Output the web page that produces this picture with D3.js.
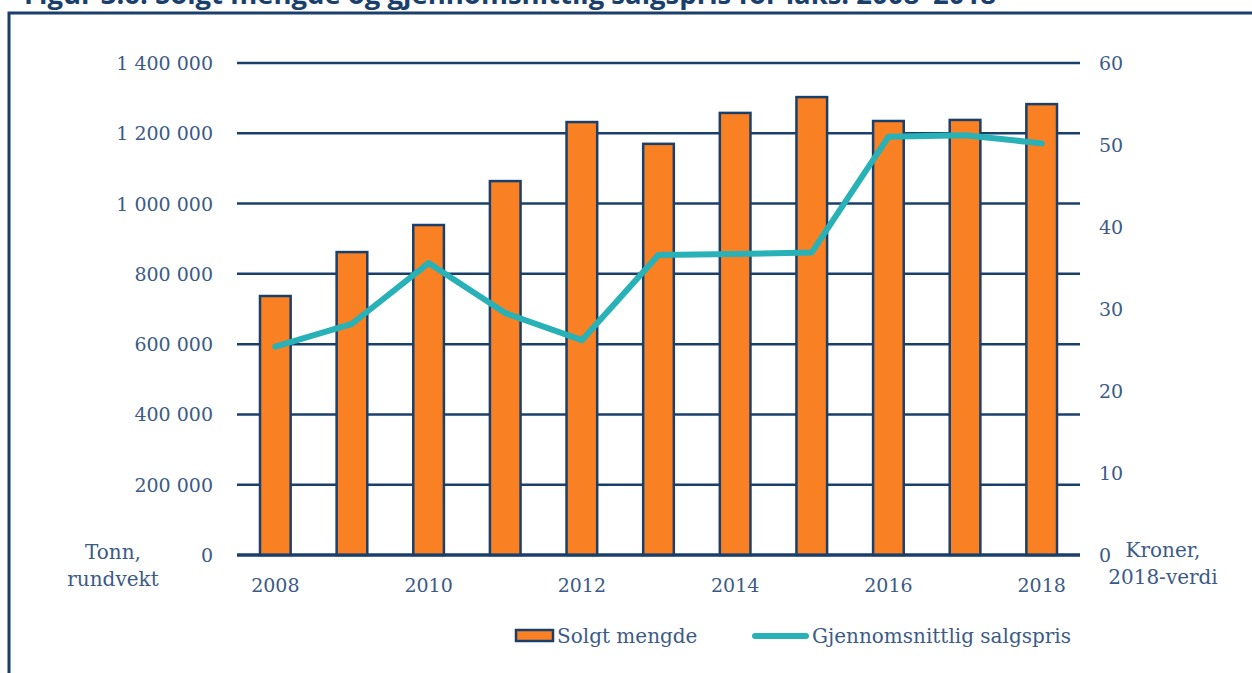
<!DOCTYPE html>
<html>
<head>
<meta charset="utf-8">
<script src="https://cdn.jsdelivr.net/npm/d3@7"></script>
<style>
  body { margin: 0; background: #fff; }
  svg { display: block; }
</style>
</head>
<body>
<svg width="1252" height="673"></svg>
<script>
// data
const years = [2008, 2009, 2010, 2011, 2012, 2013, 2014, 2015, 2016, 2017, 2018]
const solgtMengde = [737000, 862000, 939000, 1064000, 1232000, 1170000, 1258000, 1303000, 1235000, 1238000, 1283000]
const salgspris = [25.4, 28.2, 35.6, 29.5, 26.2, 36.6, 36.7, 36.9, 51.0, 51.2, 50.2]
const leftTicks = [0, 200000, 400000, 600000, 800000, 1000000, 1200000, 1400000]
const rightTicks = [0, 10, 20, 30, 40, 50, 60]
const yearLabels = [2008, 2010, 2012, 2014, 2016, 2018]

const navy = "#1b3f6b"
const textCol = "#3b5b86"
const orange = "#f98023"
const teal = "#28b1b6"
const serif = "'DejaVu Serif', serif"

const plot = {left: 237, right: 1080, top: 63, bottom: 555}

let svg = d3.select("svg")

// title, mostly cropped off at the top
svg.append("text")
    .attr("x", 24).attr("y", 4)
    .attr("font-family", "'Open Sans', sans-serif")
    .attr("font-weight", "bold")
    .attr("font-size", 27.5)
    .attr("fill", navy)
    .text("Figur 3.6: Solgt mengde og gjennomsnittlig salgspris for laks. 2008–2018")

// frame
svg.append("path")
    .attr("d", "M9,673 V13 H1252")
    .attr("fill", "none")
    .attr("stroke", navy)
    .attr("stroke-width", 3)

const x = d3.scaleBand().domain(years).range([plot.left, plot.right]).paddingInner(0.6).paddingOuter(0.3)
const yL = d3.scaleLinear().domain([0, 1400000]).range([plot.bottom, plot.top])
const yR = d3.scaleLinear().domain([0, 60]).range([plot.bottom, plot.top])

const fmt = v => d3.format(",")(v).replace(/,/g, " ")

// gridlines
svg.append("g").selectAll("line")
    .data(leftTicks)
    .join("line")
    .attr("x1", plot.left).attr("x2", plot.right)
    .attr("y1", d => yL(d)).attr("y2", d => yL(d))
    .attr("stroke", navy)
    .attr("stroke-width", d => d === 0 ? 3 : 2.5)

// bars
svg.append("g").selectAll("rect")
    .data(years)
    .join("rect")
    .attr("x", d => x(d))
    .attr("width", x.bandwidth())
    .attr("y", (d, i) => yL(solgtMengde[i]))
    .attr("height", (d, i) => yL(0) - yL(solgtMengde[i]))
    .attr("fill", orange)
    .attr("stroke", navy)
    .attr("stroke-width", 2.5)

// zero line over bars
svg.append("line")
    .attr("x1", plot.left).attr("x2", plot.right)
    .attr("y1", yL(0)).attr("y2", yL(0))
    .attr("stroke", navy).attr("stroke-width", 3)

// price line
const line = d3.line()
    .x((d, i) => x(years[i]) + x.bandwidth() / 2)
    .y(d => yR(d))
svg.append("path")
    .datum(salgspris)
    .attr("d", line)
    .attr("fill", "none")
    .attr("stroke", teal)
    .attr("stroke-width", 6)
    .attr("stroke-linecap", "round")
    .attr("stroke-linejoin", "round")

// left axis labels
svg.append("g").selectAll("text")
    .data(leftTicks)
    .join("text")
    .attr("x", 213).attr("y", d => yL(d) + 7)
    .attr("text-anchor", "end")
    .attr("font-family", serif).attr("font-size", 19).attr("fill", textCol)
    .text(d => fmt(d))

// right axis labels
svg.append("g").selectAll("text")
    .data(rightTicks)
    .join("text")
    .attr("x", 1099).attr("y", d => yR(d) + 7)
    .attr("font-family", serif).attr("font-size", 19).attr("fill", textCol)
    .text(d => d)

// x labels
svg.append("g").selectAll("text")
    .data(yearLabels)
    .join("text")
    .attr("x", d => x(d) + x.bandwidth() / 2).attr("y", 592)
    .attr("text-anchor", "middle")
    .attr("font-family", serif).attr("font-size", 19).attr("fill", textCol)
    .text(d => d)

// axis titles
const axisTitle = (lines, cx, y0) => {
    svg.append("text")
        .attr("text-anchor", "middle")
        .attr("font-family", serif).attr("font-size", 20).attr("fill", textCol)
        .selectAll("tspan")
        .data(lines)
        .join("tspan")
        .attr("x", cx).attr("y", (d, i) => y0 + i * 27)
        .text(d => d)
}
axisTitle(["Tonn,", "rundvekt"], 113, 559)
axisTitle(["Kroner,", "2018-verdi"], 1163, 557)

// legend
svg.append("rect")
    .attr("x", 516).attr("y", 630).attr("width", 37).attr("height", 11)
    .attr("fill", orange).attr("stroke", navy).attr("stroke-width", 2.5)
svg.append("text")
    .attr("x", 557).attr("y", 643)
    .attr("font-family", serif).attr("font-size", 20).attr("fill", textCol)
    .text("Solgt mengde")
svg.append("line")
    .attr("x1", 755).attr("x2", 806).attr("y1", 636).attr("y2", 636)
    .attr("stroke", teal).attr("stroke-width", 6).attr("stroke-linecap", "round")
svg.append("text")
    .attr("x", 812).attr("y", 643)
    .attr("font-family", serif).attr("font-size", 20).attr("fill", textCol)
    .text("Gjennomsnittlig salgspris")
</script>
</body>
</html>
